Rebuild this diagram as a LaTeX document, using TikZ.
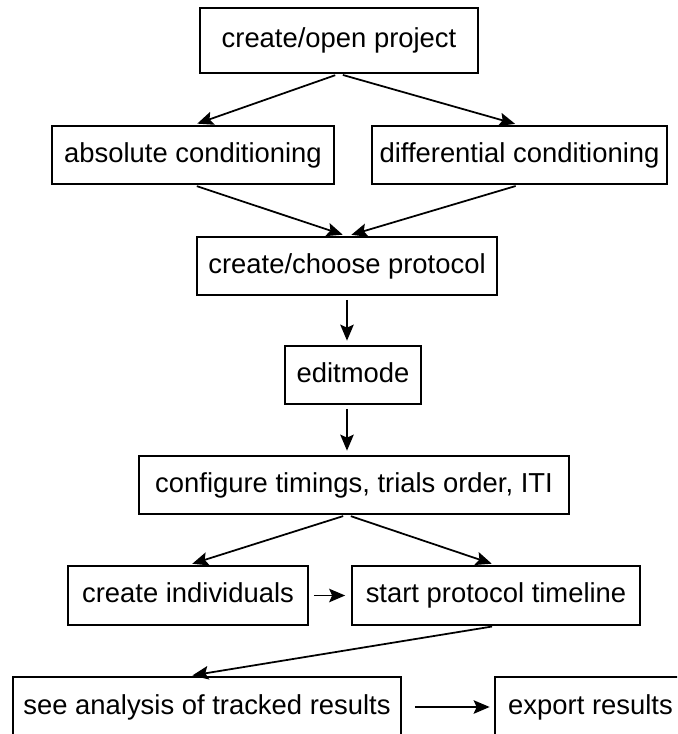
\documentclass[tikz,border=0pt]{standalone}
\usepackage{fontspec}
\setmainfont{Liberation Sans}
\usetikzlibrary{arrows.meta}

\begin{document}
\begin{tikzpicture}[x=0.02cm, y=-0.02cm,
	box/.style={draw, line width=1pt, minimum height=1.16cm, inner sep=0pt, text height=0.4cm, text depth=0.12cm},
	flow/.style={-{Stealth[length=0.32cm, width=0.27cm, inset=0.06cm]}, line width=1pt, shorten <=0.08cm, shorten >=0.09cm}]
	\fontsize{15.6}{18}\selectfont
	\path[use as bounding box, clip] (0,0) rectangle (677,734);
	% boxes, top to bottom
	\node[box, minimum width=5.56cm, minimum height=1.3cm] (proj) at (339,40.5) {create/open project};
	\node[box, minimum width=5.64cm] (absc) at (193,155) {absolute conditioning};
	\node[box, minimum width=5.9cm] (diffc) at (519.5,155) {differential conditioning};
	\node[box, minimum width=6cm] (proto) at (347,266) {create/choose protocol};
	\node[box, minimum width=2.72cm] (edit) at (353,375) {editmode};
	\node[box, minimum width=8.6cm] (config) at (354,485) {configure timings, trials order, ITI};
	\node[box, minimum width=4.8cm, minimum height=1.18cm] (indiv) at (188,595.5) {create individuals};
	\node[box, minimum width=5.76cm, minimum height=1.18cm] (timeline) at (496,595.5) {start protocol timeline};
	\node[box, minimum width=7.76cm, minimum height=1.2cm] (analysis) at (207,707) {see analysis of tracked results};
	\node[box, minimum width=3.82cm, minimum height=1.2cm] (export) at (590.5,707) {export results};
	% arrows
	\draw[flow] (proj.south) -- (absc.north);
	\draw[flow] (proj.south) -- (diffc.north);
	\draw[flow] (absc.south) -- (proto.north);
	\draw[flow] (diffc.south) -- (proto.north);
	\draw[flow] (proto.south) -- (proto.south |- edit.north);
	\draw[flow] (proto.south |- edit.south) -- (proto.south |- config.north);
	\draw[flow] (proto.south |- config.south) -- (indiv.north);
	\draw[flow] (proto.south |- config.south) -- (timeline.north);
	\draw[flow, shorten <=0.1cm, shorten >=0.12cm] (indiv.east) -- (timeline.west);
	\draw[flow] (timeline.south) -- (indiv.north |- analysis.north);
	\draw[flow, shorten <=0.26cm] (analysis.east) -- (export.west);
\end{tikzpicture}
\end{document}
